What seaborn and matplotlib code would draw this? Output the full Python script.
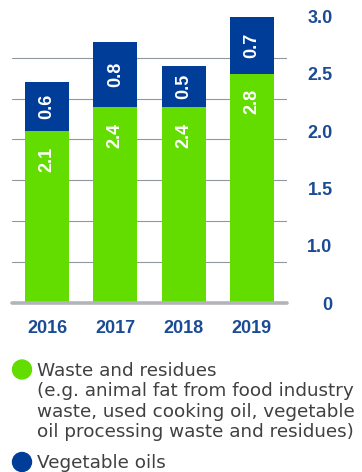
import numpy as np
import pandas as pd
import matplotlib
matplotlib.use("Agg")
import matplotlib.pyplot as plt
import seaborn as sns
from matplotlib.patches import Ellipse
from matplotlib.ticker import FixedLocator

# ---- data (bar heights as drawn in the picture, axis units of the drawn scale) ----
years = ["2016", "2017", "2018", "2019"]
waste_height = [1.80, 2.05, 2.05, 2.40]
vegoil_height = [0.52, 0.69, 0.43, 0.60]
waste_labels = ["2.1", "2.4", "2.4", "2.8"]
vegoil_labels = ["0.6", "0.8", "0.5", "0.7"]
ytick_pos = [0.0, 0.6, 1.2, 1.8, 2.4, 3.0]
ytick_text = ["0", "1.0", "1.5", "2.0", "2.5", "3.0"]
grid_pos = [3.0 * k / 7 for k in range(8)]
legend_lines_1 = ["Waste and residues",
                  "(e.g. animal fat from food industry",
                  "waste, used cooking oil, vegetable",
                  "oil processing waste and residues)"]
legend_lines_2 = ["Vegetable oils"]

GREEN = "#63dd00"
BLUE = "#003d99"
TICK = "#1a4b94"
TXT = "#404040"

sns.set_theme(style="white")
plt.rcParams["font.family"] = ["Liberation Sans", "DejaVu Sans"]

W, H = 362, 472
fig = plt.figure(figsize=(W / 100, H / 100), dpi=100)
ax = fig.add_axes([12.3 / W, (H - 303) / H, (286.7 - 12.3) / W, (303 - 16.7) / H])

df = pd.DataFrame({"year": years,
                   "total": np.array(waste_height) + np.array(vegoil_height),
                   "waste": waste_height})
sns.barplot(data=df, x="year", y="total", color=BLUE, saturation=1, width=0.644, ax=ax,
            zorder=2, linewidth=0, edgecolor="none")
sns.barplot(data=df, x="year", y="waste", color=GREEN, saturation=1, width=0.644, ax=ax,
            zorder=2, linewidth=0, edgecolor="none")

ax.set_xlim(-0.508, 3.51)
ax.set_ylim(0, 3.0)
ax.set_xlabel("")
ax.set_ylabel("")
for s in ax.spines.values():
    s.set_visible(False)

# grid lines
ax.yaxis.set_minor_locator(FixedLocator(grid_pos))
ax.grid(False)
ax.grid(which="minor", axis="y", color="#8f979f", lw=0.8, zorder=0)
ax.axhline(0, color="#b1b4b8", lw=2.6, zorder=3, clip_on=False)

# y tick labels on the right
ax.yaxis.tick_right()
ax.set_yticks(ytick_pos)
ax.set_yticklabels(ytick_text)
ax.tick_params(axis="y", which="both", length=0, pad=33, labelsize=13, labelcolor=TICK)
for lbl in ax.get_yticklabels():
    lbl.set_ha("right")
    lbl.set_fontweight("bold")
ax.tick_params(axis="x", length=0, pad=12.5, labelsize=13, labelcolor=TICK)
for lbl in ax.get_xticklabels():
    lbl.set_fontweight("bold")

# value labels
for i in range(len(years)):
    ax.annotate(waste_labels[i], (i, waste_height[i]), xytext=(0, -11), textcoords="offset points",
                ha="center", va="top", rotation=90, color="white", fontsize=13,
                fontweight="bold", zorder=5)
    ax.annotate(vegoil_labels[i], (i, waste_height[i] + vegoil_height[i] / 2),
                ha="center", va="center", rotation=90, color="white", fontsize=13,
                fontweight="bold", zorder=5)

# legend
d = 19
for (cy, col) in [(369.5, GREEN), (462, BLUE)]:
    fig.add_artist(Ellipse((22 / W, 1 - cy / H), d / W, d / H, color=col, transform=fig.transFigure))
fam = ["DejaVu Sans"]
for k, line in enumerate(legend_lines_1):
    fig.text(37.3 / W, 1 - (376 + 20.4 * k) / H, line, ha="left", va="baseline", fontsize=13.2,
             color=TXT, family=fam)
fig.text(37.3 / W, 1 - 468 / H, legend_lines_2[0], ha="left", va="baseline", fontsize=13.2,
         color=TXT, family=fam)

fig.savefig("out.png", dpi=100)
